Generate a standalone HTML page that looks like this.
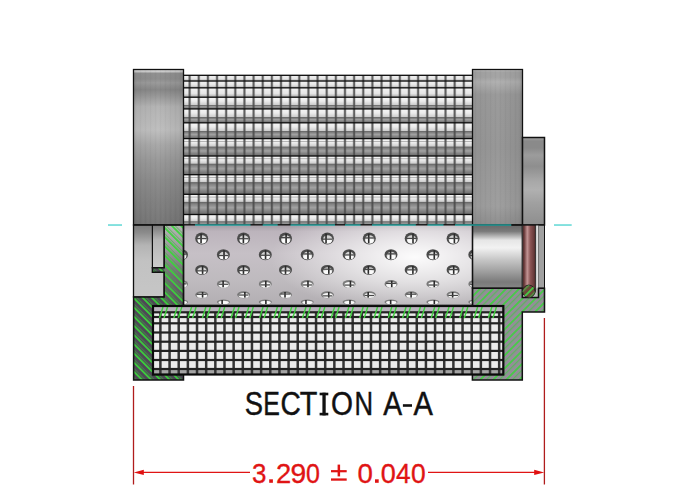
<!DOCTYPE html>
<html><head><meta charset="utf-8"><style>
html,body{margin:0;padding:0;background:#fff;width:692px;height:500px;overflow:hidden;font-family:"Liberation Sans",sans-serif;}
svg{display:block}
</style></head><body>
<svg width="692" height="500" viewBox="0 0 692 500">
<defs>
<linearGradient id="bandA" x1="0" y1="0" x2="0" y2="1">
 <stop offset="0" stop-color="#f2f2f2"/>
 <stop offset="0.6" stop-color="#e6e6e6"/>
 <stop offset="0.8" stop-color="#c8c8c8"/>
 <stop offset="1" stop-color="#a8a8a8"/>
</linearGradient>
<linearGradient id="bandB" x1="0" y1="0" x2="0" y2="1">
 <stop offset="0" stop-color="#f0f0f0"/>
 <stop offset="0.35" stop-color="#f2f2f2"/>
 <stop offset="0.62" stop-color="#d2d2d2"/>
 <stop offset="0.67" stop-color="#6e6e6e"/>
 <stop offset="0.74" stop-color="#888888"/>
 <stop offset="0.84" stop-color="#b4b4b4"/>
 <stop offset="1" stop-color="#7c7c7c"/>
</linearGradient>
<linearGradient id="bandC" x1="0" y1="0" x2="0" y2="1">
 <stop offset="0" stop-color="#e0e0e0"/>
 <stop offset="0.06" stop-color="#f6f6f6"/>
 <stop offset="0.12" stop-color="#bcbcbc"/>
 <stop offset="0.16" stop-color="#efefef"/>
 <stop offset="0.35" stop-color="#ececec"/>
 <stop offset="0.55" stop-color="#cccccc"/>
 <stop offset="0.59" stop-color="#686868"/>
 <stop offset="0.66" stop-color="#828282"/>
 <stop offset="0.76" stop-color="#acacac"/>
 <stop offset="0.86" stop-color="#8c8c8c"/>
 <stop offset="1" stop-color="#6c6c6c"/>
</linearGradient>
<linearGradient id="capg" x1="0" y1="0" x2="0" y2="1">
 <stop offset="0" stop-color="#d8d8d8"/>
 <stop offset="0.012" stop-color="#d0d0d0"/>
 <stop offset="0.025" stop-color="#909090"/>
 <stop offset="0.06" stop-color="#8e8e8e"/>
 <stop offset="0.085" stop-color="#9a9a9a"/>
 <stop offset="0.13" stop-color="#878787"/>
 <stop offset="0.24" stop-color="#b4b4b4"/>
 <stop offset="0.39" stop-color="#bebebe"/>
 <stop offset="0.485" stop-color="#a8a8a8"/>
 <stop offset="0.58" stop-color="#9a9a9a"/>
 <stop offset="0.71" stop-color="#8c8c8c"/>
 <stop offset="0.84" stop-color="#828282"/>
 <stop offset="1" stop-color="#767676"/>
</linearGradient>
<linearGradient id="caprg" x1="0" y1="0" x2="0" y2="1">
 <stop offset="0" stop-color="#d0d0d0"/>
 <stop offset="0.015" stop-color="#a4a4a4"/>
 <stop offset="0.05" stop-color="#a4a4a4"/>
 <stop offset="0.08" stop-color="#b0b0b0"/>
 <stop offset="0.16" stop-color="#9a9a9a"/>
 <stop offset="0.5" stop-color="#979797"/>
 <stop offset="0.88" stop-color="#9e9e9e"/>
 <stop offset="1" stop-color="#8e8e8e"/>
</linearGradient>
<pattern id="streak" patternUnits="userSpaceOnUse" width="5" height="10">
 <rect x="0" y="0" width="1" height="10" fill="#000" opacity="0.025"/>
 <rect x="2.5" y="0" width="1" height="10" fill="#fff" opacity="0.025"/>
</pattern>
<filter id="soft" x="-5%" y="-5%" width="110%" height="110%"><feGaussianBlur stdDeviation="0.45"/></filter>
<linearGradient id="nbox" x1="0" y1="0" x2="0" y2="1">
 <stop offset="0" stop-color="#7a7a7a"/>
 <stop offset="0.12" stop-color="#8c8c8c"/>
 <stop offset="0.35" stop-color="#b6b6b6"/>
 <stop offset="1" stop-color="#cccccc"/>
</linearGradient>
<radialGradient id="holeg" cx="0.5" cy="0.62" r="0.55">
 <stop offset="0" stop-color="#f0f0f0"/>
 <stop offset="0.55" stop-color="#dadada"/>
 <stop offset="0.85" stop-color="#6a6a6a"/>
 <stop offset="1" stop-color="#5a5a5a"/>
</radialGradient>
<linearGradient id="capr" x1="0" y1="0" x2="1" y2="0">
 <stop offset="0" stop-color="#000" stop-opacity="0.05"/>
 <stop offset="0.5" stop-color="#000" stop-opacity="0"/>
 <stop offset="0.9" stop-color="#000" stop-opacity="0.06"/>
 <stop offset="1" stop-color="#000" stop-opacity="0.12"/>
</linearGradient>
<linearGradient id="fitg" x1="0" y1="0" x2="0" y2="1">
 <stop offset="0" stop-color="#a6a6a6"/>
 <stop offset="0.04" stop-color="#8a8a8a"/>
 <stop offset="0.12" stop-color="#8a8a8a"/>
 <stop offset="0.2" stop-color="#9c9c9c"/>
 <stop offset="0.33" stop-color="#8e8e8e"/>
 <stop offset="0.5" stop-color="#a8a8a8"/>
 <stop offset="0.6" stop-color="#b0b0b0"/>
 <stop offset="0.75" stop-color="#a0a0a0"/>
 <stop offset="1" stop-color="#8e8e8e"/>
</linearGradient>
<linearGradient id="tubeg" x1="0" y1="0" x2="0" y2="1">
 <stop offset="0" stop-color="#a49ca4"/>
 <stop offset="0.08" stop-color="#bcb4bc"/>
 <stop offset="0.35" stop-color="#c6c0c6"/>
 <stop offset="0.7" stop-color="#bebabe"/>
 <stop offset="1" stop-color="#b2aeb2"/>
</linearGradient>
<radialGradient id="tubehl" cx="0.8" cy="0.4" r="0.5" gradientTransform="translate(0.8 0.4) scale(1 1.4) translate(-0.8 -0.4)">
 <stop offset="0" stop-color="#fff" stop-opacity="0.95"/>
 <stop offset="0.45" stop-color="#fff" stop-opacity="0.55"/>
 <stop offset="1" stop-color="#fff" stop-opacity="0"/>
</radialGradient>
<linearGradient id="cylg" x1="0" y1="0" x2="0" y2="1">
 <stop offset="0" stop-color="#686868"/>
 <stop offset="0.1" stop-color="#7a7a7a"/>
 <stop offset="0.24" stop-color="#e6e6e6"/>
 <stop offset="0.36" stop-color="#f2f2f2"/>
 <stop offset="0.55" stop-color="#c6c6c6"/>
 <stop offset="0.75" stop-color="#9c9c9c"/>
 <stop offset="0.9" stop-color="#7a7a7a"/>
 <stop offset="1" stop-color="#868686"/>
</linearGradient>
<linearGradient id="oring" x1="0" y1="0" x2="1" y2="0">
 <stop offset="0" stop-color="#4e2a2a"/>
 <stop offset="0.15" stop-color="#744444"/>
 <stop offset="0.36" stop-color="#c29494"/>
 <stop offset="0.6" stop-color="#8a5454"/>
 <stop offset="0.85" stop-color="#6a3c3c"/>
 <stop offset="1" stop-color="#4a2828"/>
</linearGradient>
<linearGradient id="lpart" x1="0" y1="0" x2="0" y2="1">
 <stop offset="0" stop-color="#7c7c7c"/>
 <stop offset="0.1" stop-color="#8a8a8a"/>
 <stop offset="0.28" stop-color="#b4b4b4"/>
 <stop offset="0.5" stop-color="#c2c2c2"/>
 <stop offset="1" stop-color="#c6c6c6"/>
</linearGradient>
<linearGradient id="hcol" x1="0" y1="0" x2="0" y2="1">
 <stop offset="0" stop-color="#b4b4b4"/>
 <stop offset="0.3" stop-color="#9a9a9a"/>
 <stop offset="0.6" stop-color="#727074"/>
 <stop offset="1" stop-color="#545058"/>
</linearGradient>
<pattern id="hatchL" patternUnits="userSpaceOnUse" width="6.5" height="6.5" patternTransform="rotate(-45)">
 <rect x="0" y="0" width="1.7" height="6.5" fill="#3ad43a"/>
 <rect x="2.7" y="0" width="1.0" height="6.5" fill="#3ab43a" opacity="0.55"/>
</pattern>
<pattern id="hatchR" patternUnits="userSpaceOnUse" width="9.2" height="9.2" patternTransform="rotate(45)">
 <rect x="0" y="0" width="1.8" height="9.2" fill="#44cc44"/>
 <rect x="4.6" y="0" width="1.3" height="9.2" fill="#48c448" opacity="0.7"/>
</pattern>
<linearGradient id="band3" x1="0" y1="0" x2="0" y2="1"><stop offset="0" stop-color="#e4e4e4"/><stop offset="0.05" stop-color="#f4f4f4"/><stop offset="0.329" stop-color="#ececec"/><stop offset="0.629" stop-color="#cfcfcf"/><stop offset="0.679" stop-color="#686868"/><stop offset="0.759" stop-color="#828282"/><stop offset="0.812" stop-color="#a2a2a2"/><stop offset="0.915" stop-color="#808080"/><stop offset="1" stop-color="#6a6a6a"/></linearGradient><linearGradient id="band4" x1="0" y1="0" x2="0" y2="1"><stop offset="0" stop-color="#e4e4e4"/><stop offset="0.05" stop-color="#f4f4f4"/><stop offset="0.292" stop-color="#ececec"/><stop offset="0.553" stop-color="#cfcfcf"/><stop offset="0.603" stop-color="#686868"/><stop offset="0.683" stop-color="#828282"/><stop offset="0.771" stop-color="#a2a2a2"/><stop offset="0.896" stop-color="#808080"/><stop offset="1" stop-color="#6a6a6a"/></linearGradient><linearGradient id="band5" x1="0" y1="0" x2="0" y2="1"><stop offset="0" stop-color="#e4e4e4"/><stop offset="0.05" stop-color="#f4f4f4"/><stop offset="0.258" stop-color="#ececec"/><stop offset="0.487" stop-color="#cfcfcf"/><stop offset="0.537" stop-color="#686868"/><stop offset="0.617" stop-color="#828282"/><stop offset="0.734" stop-color="#a2a2a2"/><stop offset="0.879" stop-color="#808080"/><stop offset="1" stop-color="#6a6a6a"/></linearGradient><linearGradient id="band6" x1="0" y1="0" x2="0" y2="1"><stop offset="0" stop-color="#e4e4e4"/><stop offset="0.05" stop-color="#f4f4f4"/><stop offset="0.230" stop-color="#ececec"/><stop offset="0.431" stop-color="#cfcfcf"/><stop offset="0.481" stop-color="#686868"/><stop offset="0.561" stop-color="#828282"/><stop offset="0.703" stop-color="#a2a2a2"/><stop offset="0.865" stop-color="#808080"/><stop offset="1" stop-color="#6a6a6a"/></linearGradient><linearGradient id="band7" x1="0" y1="0" x2="0" y2="1"><stop offset="0" stop-color="#e4e4e4"/><stop offset="0.05" stop-color="#f4f4f4"/><stop offset="0.208" stop-color="#ececec"/><stop offset="0.386" stop-color="#cfcfcf"/><stop offset="0.436" stop-color="#686868"/><stop offset="0.516" stop-color="#828282"/><stop offset="0.679" stop-color="#a2a2a2"/><stop offset="0.854" stop-color="#808080"/><stop offset="1" stop-color="#6a6a6a"/></linearGradient><linearGradient id="band8" x1="0" y1="0" x2="0" y2="1"><stop offset="0" stop-color="#e4e4e4"/><stop offset="0.05" stop-color="#f4f4f4"/><stop offset="0.191" stop-color="#ececec"/><stop offset="0.353" stop-color="#cfcfcf"/><stop offset="0.403" stop-color="#686868"/><stop offset="0.483" stop-color="#828282"/><stop offset="0.660" stop-color="#a2a2a2"/><stop offset="0.846" stop-color="#808080"/><stop offset="1" stop-color="#6a6a6a"/></linearGradient><linearGradient id="band9" x1="0" y1="0" x2="0" y2="1"><stop offset="0" stop-color="#e4e4e4"/><stop offset="0.05" stop-color="#f4f4f4"/><stop offset="0.190" stop-color="#ececec"/><stop offset="0.350" stop-color="#cfcfcf"/><stop offset="0.400" stop-color="#686868"/><stop offset="0.480" stop-color="#828282"/><stop offset="0.659" stop-color="#a2a2a2"/><stop offset="0.845" stop-color="#808080"/><stop offset="1" stop-color="#6a6a6a"/></linearGradient><linearGradient id="band10" x1="0" y1="0" x2="0" y2="1"><stop offset="0" stop-color="#e4e4e4"/><stop offset="0.05" stop-color="#f4f4f4"/><stop offset="0.330" stop-color="#ececec"/><stop offset="0.630" stop-color="#cfcfcf"/><stop offset="0.680" stop-color="#686868"/><stop offset="0.760" stop-color="#828282"/><stop offset="0.813" stop-color="#a2a2a2"/><stop offset="0.915" stop-color="#808080"/><stop offset="1" stop-color="#6a6a6a"/></linearGradient></defs>
<g filter="url(#soft)">
<rect x="183.5" y="75" width="289" height="150" fill="#8e8e8e"/>
<rect x="183.5" y="75.3" width="289" height="5.73" fill="url(#bandA)"/>
<rect x="183.5" y="81.03" width="289" height="6.81" fill="url(#bandA)"/>
<rect x="183.5" y="87.84" width="289" height="9.36" fill="url(#bandA)"/>
<rect x="183.5" y="97.2" width="289" height="11.73" fill="url(#band3)"/>
<rect x="183.5" y="108.93" width="289" height="13.89" fill="url(#band4)"/>
<rect x="183.5" y="122.82" width="289" height="15.79" fill="url(#band5)"/>
<rect x="183.5" y="138.61" width="289" height="17.4" fill="url(#band6)"/>
<rect x="183.5" y="141.01" width="289" height="0.7" fill="#9a9a9a"/>
<rect x="183.5" y="156.01" width="289" height="18.68" fill="url(#band7)"/>
<rect x="183.5" y="158.41" width="289" height="0.7" fill="#9a9a9a"/>
<rect x="183.5" y="174.69" width="289" height="19.62" fill="url(#band8)"/>
<rect x="183.5" y="177.09" width="289" height="0.7" fill="#9a9a9a"/>
<rect x="183.5" y="194.31" width="289" height="20.2" fill="url(#band9)"/>
<rect x="183.5" y="196.71" width="289" height="0.7" fill="#9a9a9a"/>
<rect x="183.5" y="214.51" width="289" height="10.49" fill="url(#band10)"/>
<rect x="188.1" y="75" width="3.0" height="150" fill="#606060" opacity="0.35"/>
<rect x="188.75" y="75" width="1.7" height="150" fill="#484848" opacity="0.8"/>
<rect x="197.24" y="75" width="3.0" height="150" fill="#606060" opacity="0.35"/>
<rect x="197.89" y="75" width="1.7" height="150" fill="#484848" opacity="0.8"/>
<rect x="206.38" y="75" width="3.0" height="150" fill="#606060" opacity="0.35"/>
<rect x="207.03" y="75" width="1.7" height="150" fill="#484848" opacity="0.8"/>
<rect x="215.52" y="75" width="3.0" height="150" fill="#606060" opacity="0.35"/>
<rect x="216.17" y="75" width="1.7" height="150" fill="#484848" opacity="0.8"/>
<rect x="224.66" y="75" width="3.0" height="150" fill="#606060" opacity="0.35"/>
<rect x="225.31" y="75" width="1.7" height="150" fill="#484848" opacity="0.8"/>
<rect x="233.8" y="75" width="3.0" height="150" fill="#606060" opacity="0.35"/>
<rect x="234.45" y="75" width="1.7" height="150" fill="#484848" opacity="0.8"/>
<rect x="242.94" y="75" width="3.0" height="150" fill="#606060" opacity="0.35"/>
<rect x="243.59" y="75" width="1.7" height="150" fill="#484848" opacity="0.8"/>
<rect x="252.08" y="75" width="3.0" height="150" fill="#606060" opacity="0.35"/>
<rect x="252.73" y="75" width="1.7" height="150" fill="#484848" opacity="0.8"/>
<rect x="261.22" y="75" width="3.0" height="150" fill="#606060" opacity="0.35"/>
<rect x="261.87" y="75" width="1.7" height="150" fill="#484848" opacity="0.8"/>
<rect x="270.36" y="75" width="3.0" height="150" fill="#606060" opacity="0.35"/>
<rect x="271.01" y="75" width="1.7" height="150" fill="#484848" opacity="0.8"/>
<rect x="279.5" y="75" width="3.0" height="150" fill="#606060" opacity="0.35"/>
<rect x="280.15" y="75" width="1.7" height="150" fill="#484848" opacity="0.8"/>
<rect x="288.64" y="75" width="3.0" height="150" fill="#606060" opacity="0.35"/>
<rect x="289.29" y="75" width="1.7" height="150" fill="#484848" opacity="0.8"/>
<rect x="297.78" y="75" width="3.0" height="150" fill="#606060" opacity="0.35"/>
<rect x="298.43" y="75" width="1.7" height="150" fill="#484848" opacity="0.8"/>
<rect x="306.92" y="75" width="3.0" height="150" fill="#606060" opacity="0.35"/>
<rect x="307.57" y="75" width="1.7" height="150" fill="#484848" opacity="0.8"/>
<rect x="316.06" y="75" width="3.0" height="150" fill="#606060" opacity="0.35"/>
<rect x="316.71" y="75" width="1.7" height="150" fill="#484848" opacity="0.8"/>
<rect x="325.2" y="75" width="3.0" height="150" fill="#606060" opacity="0.35"/>
<rect x="325.85" y="75" width="1.7" height="150" fill="#484848" opacity="0.8"/>
<rect x="334.34" y="75" width="3.0" height="150" fill="#606060" opacity="0.35"/>
<rect x="334.99" y="75" width="1.7" height="150" fill="#484848" opacity="0.8"/>
<rect x="343.48" y="75" width="3.0" height="150" fill="#606060" opacity="0.35"/>
<rect x="344.13" y="75" width="1.7" height="150" fill="#484848" opacity="0.8"/>
<rect x="352.62" y="75" width="3.0" height="150" fill="#606060" opacity="0.35"/>
<rect x="353.27" y="75" width="1.7" height="150" fill="#484848" opacity="0.8"/>
<rect x="361.76" y="75" width="3.0" height="150" fill="#606060" opacity="0.35"/>
<rect x="362.41" y="75" width="1.7" height="150" fill="#484848" opacity="0.8"/>
<rect x="370.9" y="75" width="3.0" height="150" fill="#606060" opacity="0.35"/>
<rect x="371.55" y="75" width="1.7" height="150" fill="#484848" opacity="0.8"/>
<rect x="380.04" y="75" width="3.0" height="150" fill="#606060" opacity="0.35"/>
<rect x="380.69" y="75" width="1.7" height="150" fill="#484848" opacity="0.8"/>
<rect x="389.18" y="75" width="3.0" height="150" fill="#606060" opacity="0.35"/>
<rect x="389.83" y="75" width="1.7" height="150" fill="#484848" opacity="0.8"/>
<rect x="398.32" y="75" width="3.0" height="150" fill="#606060" opacity="0.35"/>
<rect x="398.97" y="75" width="1.7" height="150" fill="#484848" opacity="0.8"/>
<rect x="407.46" y="75" width="3.0" height="150" fill="#606060" opacity="0.35"/>
<rect x="408.11" y="75" width="1.7" height="150" fill="#484848" opacity="0.8"/>
<rect x="416.6" y="75" width="3.0" height="150" fill="#606060" opacity="0.35"/>
<rect x="417.25" y="75" width="1.7" height="150" fill="#484848" opacity="0.8"/>
<rect x="425.74" y="75" width="3.0" height="150" fill="#606060" opacity="0.35"/>
<rect x="426.39" y="75" width="1.7" height="150" fill="#484848" opacity="0.8"/>
<rect x="434.88" y="75" width="3.0" height="150" fill="#606060" opacity="0.35"/>
<rect x="435.53" y="75" width="1.7" height="150" fill="#484848" opacity="0.8"/>
<rect x="444.02" y="75" width="3.0" height="150" fill="#606060" opacity="0.35"/>
<rect x="444.67" y="75" width="1.7" height="150" fill="#484848" opacity="0.8"/>
<rect x="453.16" y="75" width="3.0" height="150" fill="#606060" opacity="0.35"/>
<rect x="453.81" y="75" width="1.7" height="150" fill="#484848" opacity="0.8"/>
<rect x="462.3" y="75" width="3.0" height="150" fill="#606060" opacity="0.35"/>
<rect x="462.95" y="75" width="1.7" height="150" fill="#484848" opacity="0.8"/>
</g>
<rect x="183.5" y="74.65" width="289" height="1.3" fill="#0c0c0c"/>
<rect x="183.5" y="80.38" width="289" height="1.3" fill="#0c0c0c"/>
<rect x="183.5" y="87.19" width="289" height="1.3" fill="#0c0c0c"/>
<rect x="183.5" y="96.55" width="289" height="1.3" fill="#0c0c0c"/>
<rect x="183.5" y="108.28" width="289" height="1.3" fill="#0c0c0c"/>
<rect x="183.5" y="122.17" width="289" height="1.3" fill="#0c0c0c"/>
<rect x="183.5" y="137.96" width="289" height="1.3" fill="#0c0c0c"/>
<rect x="183.5" y="155.36" width="289" height="1.3" fill="#0c0c0c"/>
<rect x="183.5" y="174.04" width="289" height="1.3" fill="#0c0c0c"/>
<rect x="183.5" y="193.66" width="289" height="1.3" fill="#0c0c0c"/>
<rect x="183.5" y="213.86" width="289" height="1.3" fill="#0c0c0c"/>
<rect x="183.5" y="224.35" width="289" height="1.3" fill="#0c0c0c"/>
<rect x="133.5" y="69.5" width="50" height="155.5" fill="url(#capg)"/>
<rect x="133.5" y="69.5" width="50" height="155.5" fill="url(#streak)"/>
<rect x="133.5" y="69.5" width="50" height="155.5" fill="url(#capr)" stroke="#111" stroke-width="1.3"/>
<rect x="472.5" y="69.5" width="50" height="155.5" fill="url(#caprg)"/>
<rect x="472.5" y="69.5" width="50" height="155.5" fill="url(#streak)"/>
<rect x="472.5" y="69.5" width="50" height="155.5" fill="url(#capr)" stroke="#111" stroke-width="1.3"/>
<rect x="522.5" y="137.5" width="22" height="87.5" fill="url(#fitg)" stroke="#111" stroke-width="1.5"/>
<rect x="183.5" y="225" width="289" height="80.5" fill="url(#tubeg)"/>
<rect x="183.5" y="225" width="289" height="80.5" fill="url(#tubehl)"/>
<clipPath id="tubeclip"><rect x="183.5" y="225" width="289" height="80.5"/></clipPath>
<g clip-path="url(#tubeclip)"><g filter="url(#soft)"><ellipse cx="201.7" cy="238.4" rx="6.5" ry="6" fill="#4c4c4c"/><ellipse cx="202" cy="239.48" rx="4.7" ry="4.2" fill="#d4d4d4"/><ellipse cx="202" cy="240.8" rx="4.1" ry="2.4" fill="#fbfbfb"/><rect x="200.26" y="233.6" width="1.6" height="9.6" fill="#2a2a2a"/><rect x="196.82" y="237.99" width="9.75" height="1.2" fill="#444"/><ellipse cx="243.6" cy="238.4" rx="6.5" ry="6" fill="#4c4c4c"/><ellipse cx="243.9" cy="239.48" rx="4.7" ry="4.2" fill="#d4d4d4"/><ellipse cx="243.9" cy="240.8" rx="4.1" ry="2.4" fill="#fbfbfb"/><rect x="242.58" y="233.6" width="1.6" height="9.6" fill="#2a2a2a"/><rect x="238.72" y="238.11" width="9.75" height="1.2" fill="#444"/><ellipse cx="285.5" cy="238.4" rx="6.5" ry="6" fill="#4c4c4c"/><ellipse cx="285.8" cy="239.48" rx="4.7" ry="4.2" fill="#d4d4d4"/><ellipse cx="285.8" cy="240.8" rx="4.1" ry="2.4" fill="#fbfbfb"/><rect x="285.3" y="233.6" width="1.6" height="9.6" fill="#2a2a2a"/><rect x="280.62" y="237.03" width="9.75" height="1.2" fill="#444"/><ellipse cx="327.4" cy="238.4" rx="6.5" ry="6" fill="#4c4c4c"/><ellipse cx="327.7" cy="239.48" rx="4.7" ry="4.2" fill="#d4d4d4"/><ellipse cx="327.7" cy="240.8" rx="4.1" ry="2.4" fill="#fbfbfb"/><rect x="325.24" y="233.6" width="1.6" height="9.6" fill="#2a2a2a"/><rect x="322.52" y="238.57" width="9.75" height="1.2" fill="#444"/><ellipse cx="369.3" cy="238.4" rx="6.5" ry="6" fill="#4c4c4c"/><ellipse cx="369.6" cy="239.48" rx="4.7" ry="4.2" fill="#d4d4d4"/><ellipse cx="369.6" cy="240.8" rx="4.1" ry="2.4" fill="#fbfbfb"/><rect x="367.93" y="233.6" width="1.6" height="9.6" fill="#2a2a2a"/><rect x="364.42" y="237.37" width="9.75" height="1.2" fill="#444"/><ellipse cx="411.2" cy="238.4" rx="6.5" ry="6" fill="#4c4c4c"/><ellipse cx="411.5" cy="239.48" rx="4.7" ry="4.2" fill="#d4d4d4"/><ellipse cx="411.5" cy="240.8" rx="4.1" ry="2.4" fill="#fbfbfb"/><rect x="412.19" y="233.6" width="1.6" height="9.6" fill="#2a2a2a"/><rect x="406.32" y="237.84" width="9.75" height="1.2" fill="#444"/><ellipse cx="453.1" cy="238.4" rx="6.5" ry="6" fill="#4c4c4c"/><ellipse cx="453.4" cy="239.48" rx="4.7" ry="4.2" fill="#d4d4d4"/><ellipse cx="453.4" cy="240.8" rx="4.1" ry="2.4" fill="#fbfbfb"/><rect x="453.58" y="233.6" width="1.6" height="9.6" fill="#2a2a2a"/><rect x="448.22" y="237.85" width="9.75" height="1.2" fill="#444"/><ellipse cx="181.5" cy="254.7" rx="6.5" ry="5.5" fill="#4c4c4c"/><ellipse cx="181.8" cy="255.69" rx="4.7" ry="3.85" fill="#d4d4d4"/><ellipse cx="181.8" cy="256.9" rx="4.1" ry="2.2" fill="#fbfbfb"/><rect x="181.35" y="250.3" width="1.6" height="8.8" fill="#2a2a2a"/><rect x="176.62" y="253.5" width="9.75" height="1.2" fill="#444"/><ellipse cx="223.4" cy="254.7" rx="6.5" ry="5.5" fill="#4c4c4c"/><ellipse cx="223.7" cy="255.69" rx="4.7" ry="3.85" fill="#d4d4d4"/><ellipse cx="223.7" cy="256.9" rx="4.1" ry="2.2" fill="#fbfbfb"/><rect x="223.23" y="250.3" width="1.6" height="8.8" fill="#2a2a2a"/><rect x="218.53" y="254.94" width="9.75" height="1.2" fill="#444"/><ellipse cx="265.3" cy="254.7" rx="6.5" ry="5.5" fill="#4c4c4c"/><ellipse cx="265.6" cy="255.69" rx="4.7" ry="3.85" fill="#d4d4d4"/><ellipse cx="265.6" cy="256.9" rx="4.1" ry="2.2" fill="#fbfbfb"/><rect x="264.77" y="250.3" width="1.6" height="8.8" fill="#2a2a2a"/><rect x="260.43" y="254.68" width="9.75" height="1.2" fill="#444"/><ellipse cx="307.2" cy="254.7" rx="6.5" ry="5.5" fill="#4c4c4c"/><ellipse cx="307.5" cy="255.69" rx="4.7" ry="3.85" fill="#d4d4d4"/><ellipse cx="307.5" cy="256.9" rx="4.1" ry="2.2" fill="#fbfbfb"/><rect x="307.15" y="250.3" width="1.6" height="8.8" fill="#2a2a2a"/><rect x="302.32" y="253.33" width="9.75" height="1.2" fill="#444"/><ellipse cx="349.1" cy="254.7" rx="6.5" ry="5.5" fill="#4c4c4c"/><ellipse cx="349.4" cy="255.69" rx="4.7" ry="3.85" fill="#d4d4d4"/><ellipse cx="349.4" cy="256.9" rx="4.1" ry="2.2" fill="#fbfbfb"/><rect x="349.33" y="250.3" width="1.6" height="8.8" fill="#2a2a2a"/><rect x="344.23" y="254.38" width="9.75" height="1.2" fill="#444"/><ellipse cx="391" cy="254.7" rx="6.5" ry="5.5" fill="#4c4c4c"/><ellipse cx="391.3" cy="255.69" rx="4.7" ry="3.85" fill="#d4d4d4"/><ellipse cx="391.3" cy="256.9" rx="4.1" ry="2.2" fill="#fbfbfb"/><rect x="389.76" y="250.3" width="1.6" height="8.8" fill="#2a2a2a"/><rect x="386.12" y="253.26" width="9.75" height="1.2" fill="#444"/><ellipse cx="432.9" cy="254.7" rx="6.5" ry="5.5" fill="#4c4c4c"/><ellipse cx="433.2" cy="255.69" rx="4.7" ry="3.85" fill="#d4d4d4"/><ellipse cx="433.2" cy="256.9" rx="4.1" ry="2.2" fill="#fbfbfb"/><rect x="433.47" y="250.3" width="1.6" height="8.8" fill="#2a2a2a"/><rect x="428.02" y="254.15" width="9.75" height="1.2" fill="#444"/><ellipse cx="474.8" cy="254.7" rx="6.5" ry="5.5" fill="#4c4c4c"/><ellipse cx="475.1" cy="255.69" rx="4.7" ry="3.85" fill="#d4d4d4"/><ellipse cx="475.1" cy="256.9" rx="4.1" ry="2.2" fill="#fbfbfb"/><rect x="474.9" y="250.3" width="1.6" height="8.8" fill="#2a2a2a"/><rect x="469.93" y="254.96" width="9.75" height="1.2" fill="#444"/><ellipse cx="201.7" cy="269.9" rx="6.5" ry="5" fill="#4c4c4c"/><ellipse cx="202" cy="270.8" rx="4.7" ry="3.5" fill="#d4d4d4"/><ellipse cx="202" cy="271.9" rx="4.1" ry="2" fill="#fbfbfb"/><rect x="201.79" y="265.9" width="1.6" height="8" fill="#2a2a2a"/><rect x="196.82" y="270.24" width="9.75" height="1.2" fill="#444"/><ellipse cx="243.6" cy="269.9" rx="6.5" ry="5" fill="#4c4c4c"/><ellipse cx="243.9" cy="270.8" rx="4.7" ry="3.5" fill="#d4d4d4"/><ellipse cx="243.9" cy="271.9" rx="4.1" ry="2" fill="#fbfbfb"/><rect x="242.66" y="265.9" width="1.6" height="8" fill="#2a2a2a"/><rect x="238.72" y="270" width="9.75" height="1.2" fill="#444"/><ellipse cx="285.5" cy="269.9" rx="6.5" ry="5" fill="#4c4c4c"/><ellipse cx="285.8" cy="270.8" rx="4.7" ry="3.5" fill="#d4d4d4"/><ellipse cx="285.8" cy="271.9" rx="4.1" ry="2" fill="#fbfbfb"/><rect x="284.72" y="265.9" width="1.6" height="8" fill="#2a2a2a"/><rect x="280.62" y="270.27" width="9.75" height="1.2" fill="#444"/><ellipse cx="327.4" cy="269.9" rx="6.5" ry="5" fill="#4c4c4c"/><ellipse cx="327.7" cy="270.8" rx="4.7" ry="3.5" fill="#d4d4d4"/><ellipse cx="327.7" cy="271.9" rx="4.1" ry="2" fill="#fbfbfb"/><rect x="328.01" y="265.9" width="1.6" height="8" fill="#2a2a2a"/><rect x="322.52" y="268.59" width="9.75" height="1.2" fill="#444"/><ellipse cx="369.3" cy="269.9" rx="6.5" ry="5" fill="#4c4c4c"/><ellipse cx="369.6" cy="270.8" rx="4.7" ry="3.5" fill="#d4d4d4"/><ellipse cx="369.6" cy="271.9" rx="4.1" ry="2" fill="#fbfbfb"/><rect x="367.54" y="265.9" width="1.6" height="8" fill="#2a2a2a"/><rect x="364.42" y="268.83" width="9.75" height="1.2" fill="#444"/><ellipse cx="411.2" cy="269.9" rx="6.5" ry="5" fill="#4c4c4c"/><ellipse cx="411.5" cy="270.8" rx="4.7" ry="3.5" fill="#d4d4d4"/><ellipse cx="411.5" cy="271.9" rx="4.1" ry="2" fill="#fbfbfb"/><rect x="412.09" y="265.9" width="1.6" height="8" fill="#2a2a2a"/><rect x="406.32" y="269.27" width="9.75" height="1.2" fill="#444"/><ellipse cx="453.1" cy="269.9" rx="6.5" ry="5" fill="#4c4c4c"/><ellipse cx="453.4" cy="270.8" rx="4.7" ry="3.5" fill="#d4d4d4"/><ellipse cx="453.4" cy="271.9" rx="4.1" ry="2" fill="#fbfbfb"/><rect x="452.91" y="265.9" width="1.6" height="8" fill="#2a2a2a"/><rect x="448.22" y="269" width="9.75" height="1.2" fill="#444"/><ellipse cx="181.5" cy="284" rx="6.5" ry="4" fill="#7a7a7a"/><ellipse cx="181.8" cy="284.88" rx="5.2" ry="2.88" fill="#f8f8f8"/><rect x="180.92" y="280.8" width="1.6" height="6.4" fill="#2a2a2a"/><rect x="176.62" y="283.27" width="9.75" height="1.2" fill="#444"/><ellipse cx="223.4" cy="284" rx="6.5" ry="4" fill="#7a7a7a"/><ellipse cx="223.7" cy="284.88" rx="5.2" ry="2.88" fill="#f8f8f8"/><rect x="222.32" y="280.8" width="1.6" height="6.4" fill="#2a2a2a"/><rect x="218.53" y="283.67" width="9.75" height="1.2" fill="#444"/><ellipse cx="265.3" cy="284" rx="6.5" ry="4" fill="#7a7a7a"/><ellipse cx="265.6" cy="284.88" rx="5.2" ry="2.88" fill="#f8f8f8"/><rect x="264.97" y="280.8" width="1.6" height="6.4" fill="#2a2a2a"/><rect x="260.43" y="284.31" width="9.75" height="1.2" fill="#444"/><ellipse cx="307.2" cy="284" rx="6.5" ry="4" fill="#7a7a7a"/><ellipse cx="307.5" cy="284.88" rx="5.2" ry="2.88" fill="#f8f8f8"/><rect x="307.18" y="280.8" width="1.6" height="6.4" fill="#2a2a2a"/><rect x="302.32" y="284.36" width="9.75" height="1.2" fill="#444"/><ellipse cx="349.1" cy="284" rx="6.5" ry="4" fill="#7a7a7a"/><ellipse cx="349.4" cy="284.88" rx="5.2" ry="2.88" fill="#f8f8f8"/><rect x="349.64" y="280.8" width="1.6" height="6.4" fill="#2a2a2a"/><rect x="344.23" y="284.48" width="9.75" height="1.2" fill="#444"/><ellipse cx="391" cy="284" rx="6.5" ry="4" fill="#7a7a7a"/><ellipse cx="391.3" cy="284.88" rx="5.2" ry="2.88" fill="#f8f8f8"/><rect x="390.95" y="280.8" width="1.6" height="6.4" fill="#2a2a2a"/><rect x="386.12" y="282.83" width="9.75" height="1.2" fill="#444"/><ellipse cx="432.9" cy="284" rx="6.5" ry="4" fill="#7a7a7a"/><ellipse cx="433.2" cy="284.88" rx="5.2" ry="2.88" fill="#f8f8f8"/><rect x="433.45" y="280.8" width="1.6" height="6.4" fill="#2a2a2a"/><rect x="428.02" y="284.43" width="9.75" height="1.2" fill="#444"/><ellipse cx="474.8" cy="284" rx="6.5" ry="4" fill="#7a7a7a"/><ellipse cx="475.1" cy="284.88" rx="5.2" ry="2.88" fill="#f8f8f8"/><rect x="475.5" y="280.8" width="1.6" height="6.4" fill="#2a2a2a"/><rect x="469.93" y="283.64" width="9.75" height="1.2" fill="#444"/><ellipse cx="201.7" cy="294.8" rx="6.5" ry="3.5" fill="#7a7a7a"/><ellipse cx="202" cy="295.57" rx="5.2" ry="2.52" fill="#f8f8f8"/><rect x="201.78" y="292" width="1.6" height="5.6" fill="#2a2a2a"/><rect x="196.82" y="293.72" width="9.75" height="1.2" fill="#444"/><ellipse cx="243.6" cy="294.8" rx="6.5" ry="3.5" fill="#7a7a7a"/><ellipse cx="243.9" cy="295.57" rx="5.2" ry="2.52" fill="#f8f8f8"/><rect x="244.06" y="292" width="1.6" height="5.6" fill="#2a2a2a"/><rect x="238.72" y="294.45" width="9.75" height="1.2" fill="#444"/><ellipse cx="285.5" cy="294.8" rx="6.5" ry="3.5" fill="#7a7a7a"/><ellipse cx="285.8" cy="295.57" rx="5.2" ry="2.52" fill="#f8f8f8"/><rect x="284.21" y="292" width="1.6" height="5.6" fill="#2a2a2a"/><rect x="280.62" y="293.43" width="9.75" height="1.2" fill="#444"/><ellipse cx="327.4" cy="294.8" rx="6.5" ry="3.5" fill="#7a7a7a"/><ellipse cx="327.7" cy="295.57" rx="5.2" ry="2.52" fill="#f8f8f8"/><rect x="327.93" y="292" width="1.6" height="5.6" fill="#2a2a2a"/><rect x="322.52" y="295.28" width="9.75" height="1.2" fill="#444"/><ellipse cx="369.3" cy="294.8" rx="6.5" ry="3.5" fill="#7a7a7a"/><ellipse cx="369.6" cy="295.57" rx="5.2" ry="2.52" fill="#f8f8f8"/><rect x="367.38" y="292" width="1.6" height="5.6" fill="#2a2a2a"/><rect x="364.42" y="294.9" width="9.75" height="1.2" fill="#444"/><ellipse cx="411.2" cy="294.8" rx="6.5" ry="3.5" fill="#7a7a7a"/><ellipse cx="411.5" cy="295.57" rx="5.2" ry="2.52" fill="#f8f8f8"/><rect x="410.31" y="292" width="1.6" height="5.6" fill="#2a2a2a"/><rect x="406.32" y="293.6" width="9.75" height="1.2" fill="#444"/><ellipse cx="453.1" cy="294.8" rx="6.5" ry="3.5" fill="#7a7a7a"/><ellipse cx="453.4" cy="295.57" rx="5.2" ry="2.52" fill="#f8f8f8"/><rect x="451.84" y="292" width="1.6" height="5.6" fill="#2a2a2a"/><rect x="448.22" y="294.84" width="9.75" height="1.2" fill="#444"/><ellipse cx="181.5" cy="302" rx="6.5" ry="2.5" fill="#7a7a7a"/><ellipse cx="181.8" cy="302.55" rx="5.2" ry="1.8" fill="#f8f8f8"/><rect x="182.09" y="300" width="1.6" height="4" fill="#2a2a2a"/><ellipse cx="223.4" cy="302" rx="6.5" ry="2.5" fill="#7a7a7a"/><ellipse cx="223.7" cy="302.55" rx="5.2" ry="1.8" fill="#f8f8f8"/><rect x="221.34" y="300" width="1.6" height="4" fill="#2a2a2a"/><ellipse cx="265.3" cy="302" rx="6.5" ry="2.5" fill="#7a7a7a"/><ellipse cx="265.6" cy="302.55" rx="5.2" ry="1.8" fill="#f8f8f8"/><rect x="265.07" y="300" width="1.6" height="4" fill="#2a2a2a"/><ellipse cx="307.2" cy="302" rx="6.5" ry="2.5" fill="#7a7a7a"/><ellipse cx="307.5" cy="302.55" rx="5.2" ry="1.8" fill="#f8f8f8"/><rect x="305.14" y="300" width="1.6" height="4" fill="#2a2a2a"/><ellipse cx="349.1" cy="302" rx="6.5" ry="2.5" fill="#7a7a7a"/><ellipse cx="349.4" cy="302.55" rx="5.2" ry="1.8" fill="#f8f8f8"/><rect x="349.2" y="300" width="1.6" height="4" fill="#2a2a2a"/><ellipse cx="391" cy="302" rx="6.5" ry="2.5" fill="#7a7a7a"/><ellipse cx="391.3" cy="302.55" rx="5.2" ry="1.8" fill="#f8f8f8"/><rect x="389.86" y="300" width="1.6" height="4" fill="#2a2a2a"/><ellipse cx="432.9" cy="302" rx="6.5" ry="2.5" fill="#7a7a7a"/><ellipse cx="433.2" cy="302.55" rx="5.2" ry="1.8" fill="#f8f8f8"/><rect x="433.52" y="300" width="1.6" height="4" fill="#2a2a2a"/><ellipse cx="474.8" cy="302" rx="6.5" ry="2.5" fill="#7a7a7a"/><ellipse cx="475.1" cy="302.55" rx="5.2" ry="1.8" fill="#f8f8f8"/><rect x="475.74" y="300" width="1.6" height="4" fill="#2a2a2a"/></g></g>
<rect x="133.5" y="225" width="30.7" height="72" fill="url(#lpart)" stroke="#111" stroke-width="1.3"/>
<rect x="152.4" y="225" width="11.8" height="42.7" fill="url(#nbox)" stroke="#111" stroke-width="1.2"/>
<polygon points="133.6,297 164.2,297 164.2,272.2 152.4,272.2 152.4,267.7 164.2,267.7 164.2,225 183.5,225 183.5,306 153,306 153,374.5 183.5,374.5 183.5,380 133.6,380" fill="#4e4856"/>
<rect x="164.2" y="225" width="19.3" height="81" fill="url(#hcol)"/>
<polygon points="133.6,297 164.2,297 164.2,272.2 152.4,272.2 152.4,267.7 164.2,267.7 164.2,225 183.5,225 183.5,306 153,306 153,374.5 183.5,374.5 183.5,380 133.6,380" fill="url(#hatchL)" filter="url(#soft)"/>
<polygon points="133.6,297 164.2,297 164.2,272.2 152.4,272.2 152.4,267.7 164.2,267.7 164.2,225 183.5,225 183.5,306 153,306 153,374.5 183.5,374.5 183.5,380 133.6,380" fill="none" stroke="#111" stroke-width="1.5"/>
<rect x="472.5" y="225" width="49.8" height="63.3" fill="url(#cylg)" stroke="#111" stroke-width="1.3"/>
<rect x="522.3" y="225" width="22.2" height="72" fill="#b8b8b8"/>
<rect x="538.5" y="225" width="6" height="63.3" fill="#a0a0a0" stroke="#111" stroke-width="1"/>
<rect x="535.5" y="225" width="3" height="63.3" fill="#dcdcdc"/>
<path d="M522.6,225 H535.6 V290 A6.5,6.5 0 0 1 522.6,290 Z" fill="url(#oring)" stroke="#222" stroke-width="0.8"/>
<polygon points="472.5,288.3 522.3,288.3 522.3,297.5 538.5,297.5 538.5,288.3 544.5,288.3 544.5,312 522.3,312 522.3,380 472.4,380 472.4,374.4 503.3,374.4 503.3,306 472.5,306" fill="#938e98"/>
<polygon points="472.5,288.3 522.3,288.3 522.3,297.5 538.5,297.5 538.5,288.3 544.5,288.3 544.5,312 522.3,312 522.3,380 472.4,380 472.4,374.4 503.3,374.4 503.3,306 472.5,306" fill="url(#hatchR)" filter="url(#soft)"/>
<polygon points="472.5,288.3 522.3,288.3 522.3,297.5 538.5,297.5 538.5,288.3 544.5,288.3 544.5,312 522.3,312 522.3,380 472.4,380 472.4,374.4 503.3,374.4 503.3,306 472.5,306" fill="none" stroke="#111" stroke-width="1.5"/>
<circle cx="528.8" cy="291.3" r="6.2" fill="#6a4a3a" stroke="#222" stroke-width="1"/>
<circle cx="528.8" cy="291.3" r="6.2" fill="url(#hatchR)"/>
<g filter="url(#soft)">
<rect x="153" y="306" width="350.3" height="68.5" fill="#ebebeb"/>
<rect x="153" y="306" width="350.3" height="6.3" fill="#b8b4bc"/>
<rect x="153" y="313" width="350.3" height="4" fill="#ececec"/>
<rect x="153" y="368.8" width="350.3" height="5.7" fill="#a4a4a4"/>
<rect x="159.15" y="312.5" width="2.5" height="62" fill="#363636"/>
<rect x="168.31" y="312.5" width="2.5" height="62" fill="#363636"/>
<rect x="177.46" y="312.5" width="2.5" height="62" fill="#363636"/>
<rect x="186.62" y="312.5" width="2.5" height="62" fill="#363636"/>
<rect x="195.77" y="312.5" width="2.5" height="62" fill="#363636"/>
<rect x="204.93" y="312.5" width="2.5" height="62" fill="#363636"/>
<rect x="214.09" y="312.5" width="2.5" height="62" fill="#363636"/>
<rect x="223.24" y="312.5" width="2.5" height="62" fill="#363636"/>
<rect x="232.4" y="312.5" width="2.5" height="62" fill="#363636"/>
<rect x="241.55" y="312.5" width="2.5" height="62" fill="#363636"/>
<rect x="250.71" y="312.5" width="2.5" height="62" fill="#363636"/>
<rect x="259.87" y="312.5" width="2.5" height="62" fill="#363636"/>
<rect x="269.02" y="312.5" width="2.5" height="62" fill="#363636"/>
<rect x="278.18" y="312.5" width="2.5" height="62" fill="#363636"/>
<rect x="287.33" y="312.5" width="2.5" height="62" fill="#363636"/>
<rect x="296.49" y="312.5" width="2.5" height="62" fill="#363636"/>
<rect x="305.65" y="312.5" width="2.5" height="62" fill="#363636"/>
<rect x="314.8" y="312.5" width="2.5" height="62" fill="#363636"/>
<rect x="323.96" y="312.5" width="2.5" height="62" fill="#363636"/>
<rect x="333.11" y="312.5" width="2.5" height="62" fill="#363636"/>
<rect x="342.27" y="312.5" width="2.5" height="62" fill="#363636"/>
<rect x="351.43" y="312.5" width="2.5" height="62" fill="#363636"/>
<rect x="360.58" y="312.5" width="2.5" height="62" fill="#363636"/>
<rect x="369.74" y="312.5" width="2.5" height="62" fill="#363636"/>
<rect x="378.89" y="312.5" width="2.5" height="62" fill="#363636"/>
<rect x="388.05" y="312.5" width="2.5" height="62" fill="#363636"/>
<rect x="397.21" y="312.5" width="2.5" height="62" fill="#363636"/>
<rect x="406.36" y="312.5" width="2.5" height="62" fill="#363636"/>
<rect x="415.52" y="312.5" width="2.5" height="62" fill="#363636"/>
<rect x="424.67" y="312.5" width="2.5" height="62" fill="#363636"/>
<rect x="433.83" y="312.5" width="2.5" height="62" fill="#363636"/>
<rect x="442.99" y="312.5" width="2.5" height="62" fill="#363636"/>
<rect x="452.14" y="312.5" width="2.5" height="62" fill="#363636"/>
<rect x="461.3" y="312.5" width="2.5" height="62" fill="#363636"/>
<rect x="470.45" y="312.5" width="2.5" height="62" fill="#363636"/>
<rect x="479.61" y="312.5" width="2.5" height="62" fill="#363636"/>
<rect x="488.77" y="312.5" width="2.5" height="62" fill="#363636"/>
<rect x="497.92" y="312.5" width="2.5" height="62" fill="#363636"/>
<rect x="153" y="311.2" width="350.3" height="2.2" fill="#222"/>
<rect x="153" y="315.9" width="350.3" height="2.2" fill="#222"/>
<rect x="153" y="322.2" width="350.3" height="2.2" fill="#222"/>
<rect x="153" y="331.4" width="350.3" height="2.2" fill="#222"/>
<rect x="153" y="340.6" width="350.3" height="2.2" fill="#222"/>
<rect x="153" y="349.8" width="350.3" height="2.2" fill="#222"/>
<rect x="153" y="358.9" width="350.3" height="2.2" fill="#222"/>
<rect x="153" y="367.9" width="350.3" height="2.2" fill="#222"/>
</g>
<line x1="159.5" y1="318" x2="163" y2="307" stroke="#3fcf3f" stroke-width="1.4"/>
<line x1="164" y1="318" x2="167.5" y2="307" stroke="#3fcf3f" stroke-width="1.4"/>
<line x1="173.8" y1="318" x2="177.3" y2="307" stroke="#3fcf3f" stroke-width="1.4"/>
<line x1="178.3" y1="318" x2="181.8" y2="307" stroke="#3fcf3f" stroke-width="1.4"/>
<line x1="188.1" y1="318" x2="191.6" y2="307" stroke="#3fcf3f" stroke-width="1.4"/>
<line x1="192.6" y1="318" x2="196.1" y2="307" stroke="#3fcf3f" stroke-width="1.4"/>
<line x1="202.4" y1="318" x2="205.9" y2="307" stroke="#3fcf3f" stroke-width="1.4"/>
<line x1="206.9" y1="318" x2="210.4" y2="307" stroke="#3fcf3f" stroke-width="1.4"/>
<line x1="216.7" y1="318" x2="220.2" y2="307" stroke="#3fcf3f" stroke-width="1.4"/>
<line x1="221.2" y1="318" x2="224.7" y2="307" stroke="#3fcf3f" stroke-width="1.4"/>
<line x1="231" y1="318" x2="234.5" y2="307" stroke="#3fcf3f" stroke-width="1.4"/>
<line x1="235.5" y1="318" x2="239" y2="307" stroke="#3fcf3f" stroke-width="1.4"/>
<line x1="245.3" y1="318" x2="248.8" y2="307" stroke="#3fcf3f" stroke-width="1.4"/>
<line x1="249.8" y1="318" x2="253.3" y2="307" stroke="#3fcf3f" stroke-width="1.4"/>
<line x1="259.6" y1="318" x2="263.1" y2="307" stroke="#3fcf3f" stroke-width="1.4"/>
<line x1="264.1" y1="318" x2="267.6" y2="307" stroke="#3fcf3f" stroke-width="1.4"/>
<line x1="273.9" y1="318" x2="277.4" y2="307" stroke="#3fcf3f" stroke-width="1.4"/>
<line x1="278.4" y1="318" x2="281.9" y2="307" stroke="#3fcf3f" stroke-width="1.4"/>
<line x1="288.2" y1="318" x2="291.7" y2="307" stroke="#3fcf3f" stroke-width="1.4"/>
<line x1="292.7" y1="318" x2="296.2" y2="307" stroke="#3fcf3f" stroke-width="1.4"/>
<line x1="302.5" y1="318" x2="306" y2="307" stroke="#3fcf3f" stroke-width="1.4"/>
<line x1="307" y1="318" x2="310.5" y2="307" stroke="#3fcf3f" stroke-width="1.4"/>
<line x1="316.8" y1="318" x2="320.3" y2="307" stroke="#3fcf3f" stroke-width="1.4"/>
<line x1="321.3" y1="318" x2="324.8" y2="307" stroke="#3fcf3f" stroke-width="1.4"/>
<line x1="331.1" y1="318" x2="334.6" y2="307" stroke="#3fcf3f" stroke-width="1.4"/>
<line x1="335.6" y1="318" x2="339.1" y2="307" stroke="#3fcf3f" stroke-width="1.4"/>
<line x1="345.4" y1="318" x2="348.9" y2="307" stroke="#3fcf3f" stroke-width="1.4"/>
<line x1="349.9" y1="318" x2="353.4" y2="307" stroke="#3fcf3f" stroke-width="1.4"/>
<line x1="359.7" y1="318" x2="363.2" y2="307" stroke="#3fcf3f" stroke-width="1.4"/>
<line x1="364.2" y1="318" x2="367.7" y2="307" stroke="#3fcf3f" stroke-width="1.4"/>
<line x1="374" y1="318" x2="377.5" y2="307" stroke="#3fcf3f" stroke-width="1.4"/>
<line x1="378.5" y1="318" x2="382" y2="307" stroke="#3fcf3f" stroke-width="1.4"/>
<line x1="388.3" y1="318" x2="391.8" y2="307" stroke="#3fcf3f" stroke-width="1.4"/>
<line x1="392.8" y1="318" x2="396.3" y2="307" stroke="#3fcf3f" stroke-width="1.4"/>
<line x1="402.6" y1="318" x2="406.1" y2="307" stroke="#3fcf3f" stroke-width="1.4"/>
<line x1="407.1" y1="318" x2="410.6" y2="307" stroke="#3fcf3f" stroke-width="1.4"/>
<line x1="416.9" y1="318" x2="420.4" y2="307" stroke="#3fcf3f" stroke-width="1.4"/>
<line x1="421.4" y1="318" x2="424.9" y2="307" stroke="#3fcf3f" stroke-width="1.4"/>
<line x1="431.2" y1="318" x2="434.7" y2="307" stroke="#3fcf3f" stroke-width="1.4"/>
<line x1="435.7" y1="318" x2="439.2" y2="307" stroke="#3fcf3f" stroke-width="1.4"/>
<line x1="445.5" y1="318" x2="449" y2="307" stroke="#3fcf3f" stroke-width="1.4"/>
<line x1="450" y1="318" x2="453.5" y2="307" stroke="#3fcf3f" stroke-width="1.4"/>
<line x1="459.8" y1="318" x2="463.3" y2="307" stroke="#3fcf3f" stroke-width="1.4"/>
<line x1="464.3" y1="318" x2="467.8" y2="307" stroke="#3fcf3f" stroke-width="1.4"/>
<line x1="474.1" y1="318" x2="477.6" y2="307" stroke="#3fcf3f" stroke-width="1.4"/>
<line x1="478.6" y1="318" x2="482.1" y2="307" stroke="#3fcf3f" stroke-width="1.4"/>
<line x1="488.4" y1="318" x2="491.9" y2="307" stroke="#3fcf3f" stroke-width="1.4"/>
<line x1="492.9" y1="318" x2="496.4" y2="307" stroke="#3fcf3f" stroke-width="1.4"/>
<rect x="153" y="306" width="350.3" height="68.5" fill="none" stroke="#0a0a0a" stroke-width="2.2"/>
<line x1="133.5" y1="225" x2="544.5" y2="225" stroke="#111" stroke-width="1.2"/>
<line x1="183.5" y1="225" x2="183.5" y2="306" stroke="#111" stroke-width="1.3"/>
<line x1="472.5" y1="225" x2="472.5" y2="306" stroke="#111" stroke-width="1.3"/>
<line x1="183.5" y1="305.5" x2="472.5" y2="305.5" stroke="#111" stroke-width="1.3"/>
<rect x="108" y="224.45" width="14" height="1.15" fill="#30ccc8"/>
<rect x="195" y="224.45" width="55.5" height="1.15" fill="#30ccc8"/>
<rect x="262.7" y="224.45" width="15" height="1.15" fill="#30ccc8"/>
<rect x="290.5" y="224.45" width="44.5" height="1.15" fill="#30ccc8"/>
<rect x="345" y="224.45" width="15.5" height="1.15" fill="#30ccc8"/>
<rect x="372" y="224.45" width="43.8" height="1.15" fill="#30ccc8"/>
<rect x="427.4" y="224.45" width="16.1" height="1.15" fill="#30ccc8"/>
<rect x="455" y="224.45" width="56.3" height="1.15" fill="#30ccc8"/>
<rect x="554" y="224.45" width="17.7" height="1.15" fill="#30ccc8"/>
<line x1="133.5" y1="386" x2="133.5" y2="484.5" stroke="#b01c1c" stroke-width="1.3"/>
<line x1="544.4" y1="318" x2="544.4" y2="484.5" stroke="#b01c1c" stroke-width="1.3"/>
<line x1="140" y1="472.4" x2="250" y2="472.4" stroke="#e01414" stroke-width="1.3"/>
<line x1="428" y1="472.4" x2="538" y2="472.4" stroke="#e01414" stroke-width="1.3"/>
<polygon points="133.8,472.4 143.8,469.8 143.8,475" fill="#e01010"/>
<polygon points="544.2,472.4 534.2,469.8 534.2,475" fill="#e01010"/>
<text x="0" y="0" transform="translate(253.86 415.30) scale(0.832 1)" text-anchor="middle" font-family="Liberation Sans, sans-serif" font-size="32.90" fill="#111" stroke="#111" stroke-width="0.45">S</text><text x="0" y="0" transform="translate(271.61 415.30) scale(0.757 1)" text-anchor="middle" font-family="Liberation Sans, sans-serif" font-size="32.90" fill="#111" stroke="#111" stroke-width="0.45">E</text><text x="0" y="0" transform="translate(290.74 415.30) scale(0.854 1)" text-anchor="middle" font-family="Liberation Sans, sans-serif" font-size="32.90" fill="#111" stroke="#111" stroke-width="0.45">C</text><text x="0" y="0" transform="translate(308.51 415.30) scale(0.875 1)" text-anchor="middle" font-family="Liberation Sans, sans-serif" font-size="32.90" fill="#111" stroke="#111" stroke-width="0.45">T</text><text x="0" y="0" transform="translate(341.97 415.30) scale(0.858 1)" text-anchor="middle" font-family="Liberation Sans, sans-serif" font-size="32.90" fill="#111" stroke="#111" stroke-width="0.45">O</text><text x="0" y="0" transform="translate(363.83 415.30) scale(0.782 1)" text-anchor="middle" font-family="Liberation Sans, sans-serif" font-size="32.90" fill="#111" stroke="#111" stroke-width="0.45">N</text><text x="0" y="0" transform="translate(392.65 415.30) scale(0.861 1)" text-anchor="middle" font-family="Liberation Sans, sans-serif" font-size="32.90" fill="#111" stroke="#111" stroke-width="0.45">A</text><text x="0" y="0" transform="translate(423.30 415.30) scale(0.884 1)" text-anchor="middle" font-family="Liberation Sans, sans-serif" font-size="32.90" fill="#111" stroke="#111" stroke-width="0.45">A</text>
<rect x="322.4" y="392.7" width="3.3" height="22.7" fill="#111"/>
<rect x="319.6" y="392.7" width="8.7" height="2.6" fill="#111"/>
<rect x="319.6" y="412.8" width="8.7" height="2.6" fill="#111"/>
<rect x="402.9" y="404.2" width="9.1" height="2.6" fill="#111"/>
<text x="0" y="0" transform="translate(259.28 482.70) scale(0.912 1)" text-anchor="middle" font-family="Liberation Sans, sans-serif" font-size="28.45" fill="#e01414" stroke="#e01414" stroke-width="0.35">3</text><text x="0" y="0" transform="translate(283.55 482.70) scale(0.963 1)" text-anchor="middle" font-family="Liberation Sans, sans-serif" font-size="28.45" fill="#e01414" stroke="#e01414" stroke-width="0.35">2</text><text x="0" y="0" transform="translate(298.44 482.70) scale(0.993 1)" text-anchor="middle" font-family="Liberation Sans, sans-serif" font-size="28.45" fill="#e01414" stroke="#e01414" stroke-width="0.35">9</text><text x="0" y="0" transform="translate(313.05 482.70) scale(0.879 1)" text-anchor="middle" font-family="Liberation Sans, sans-serif" font-size="28.45" fill="#e01414" stroke="#e01414" stroke-width="0.35">0</text><text x="0" y="0" transform="translate(365.30 482.70) scale(0.974 1)" text-anchor="middle" font-family="Liberation Sans, sans-serif" font-size="28.45" fill="#e01414" stroke="#e01414" stroke-width="0.35">0</text><text x="0" y="0" transform="translate(388.25 482.70) scale(0.952 1)" text-anchor="middle" font-family="Liberation Sans, sans-serif" font-size="28.45" fill="#e01414" stroke="#e01414" stroke-width="0.35">0</text><text x="0" y="0" transform="translate(403.28 482.70) scale(0.924 1)" text-anchor="middle" font-family="Liberation Sans, sans-serif" font-size="28.45" fill="#e01414" stroke="#e01414" stroke-width="0.35">4</text><text x="0" y="0" transform="translate(418.30 482.70) scale(0.930 1)" text-anchor="middle" font-family="Liberation Sans, sans-serif" font-size="28.45" fill="#e01414" stroke="#e01414" stroke-width="0.35">0</text>
<rect x="269.2" y="479.3" width="3.7" height="3.5" fill="#e01414"/>
<rect x="337.6" y="464.6" width="2.5" height="11.8" fill="#e01414"/>
<rect x="331" y="470.1" width="15.7" height="2.2" fill="#e01414"/>
<rect x="331" y="478.4" width="15.7" height="2.3" fill="#e01414"/>
<rect x="375.0" y="479.3" width="3.7" height="3.5" fill="#e01414"/>
</svg>
</body></html>
